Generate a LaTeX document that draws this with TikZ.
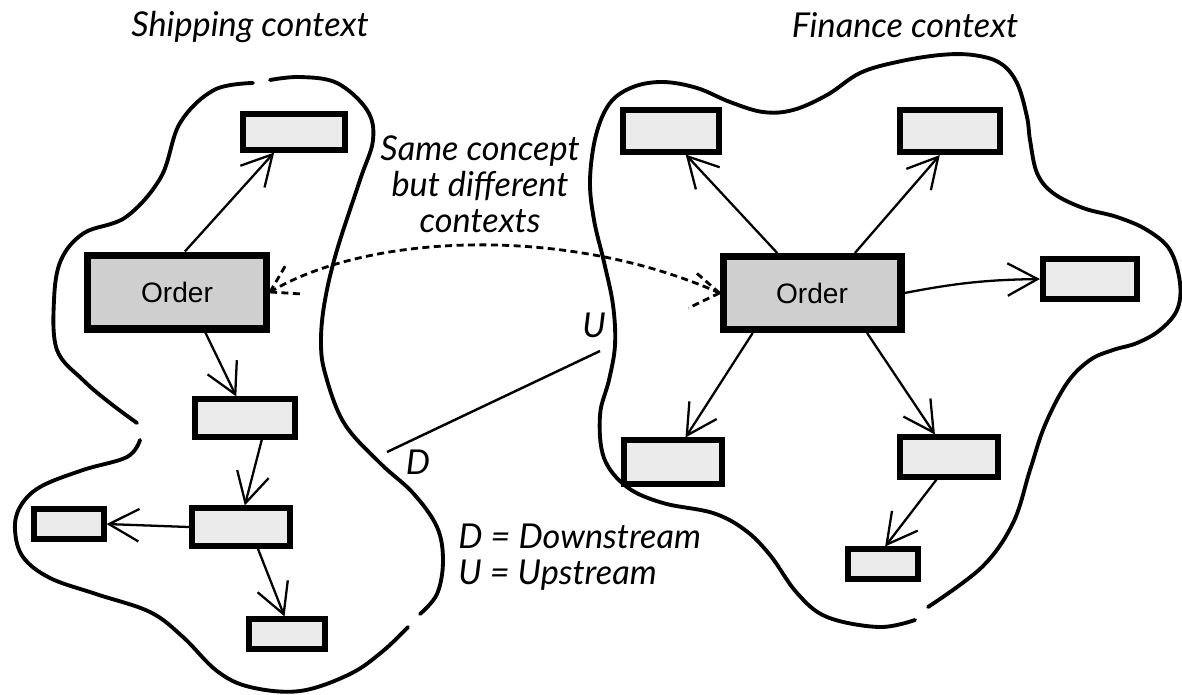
\documentclass[tikz,border=0pt]{standalone}
\usepackage{fontspec}
\usepackage{tikz}
\usetikzlibrary{arrows.meta}
\newfontfamily\boxfont{Liberation Sans}
\newfontfamily\handfont{Lato}
\tikzstyle{box} = [rectangle, draw=black, line width=3.2pt, fill=gray!16, inner sep=0pt]
\tikzstyle{order} = [rectangle, draw=black, line width=4pt, fill=gray!38, inner sep=0pt, font=\boxfont\fontsize{16}{18}\selectfont]
\tikzstyle{arrow} = [line width=1.3pt, -{Straight Barb[length=6mm, width=6.5mm]}]
\tikzstyle{link} = [line width=1.6pt, dash pattern=on 4pt off 2.5pt]
\tikzstyle{blob} = [line width=2.2pt, line cap=round, smooth, tension=0.6]
\tikzstyle{hand} = [inner sep=0pt, font=\handfont\itshape\fontsize{19.5}{20.5}\selectfont]

\begin{document}
\begin{tikzpicture}[x=0.02cm, y=-0.02cm]
  \useasboundingbox (0,0) rectangle (1182,694);
  % context outlines
  \draw[blob] plot coordinates {(253,83) (214,90) (180,123) (161,177) (126,217) (84,233) (61,260) (54,300) (57,350) (83,380) (110,403) (137,423)};
  \draw[blob] plot coordinates {(140,440) (127,457) (83,470) (40,487) (20,507) (15,530) (23,557) (50,578) (96,594) (150,612) (183,637) (217,671) (250,687) (300,691) (350,674) (383,651) (408,627)};
  \draw[blob] plot coordinates {(420,614) (437,594) (443,561) (437,527) (413,493) (380,463) (344,423) (325,373) (321,340) (325,300) (337,250) (360,180) (373,140) (367,110) (337,83) (300,77) (270,80)};
  \draw[blob] plot coordinates {(928,607) (982,567) (1013,523) (1030,470) (1045,425) (1067,383) (1090,360) (1113,350) (1137,343) (1160,330) (1177,310) (1180,283) (1170,250) (1147,230) (1117,217) (1083,208) (1053,193) (1037,173) (1030,140) (1027,117) (1017,83) (1000,63) (973,55) (940,55) (897,62) (860,73) (827,95) (793,110) (763,112) (730,102) (697,88) (663,82) (633,87) (610,103) (596,135) (590,180) (594,220) (604,262) (613,305) (615,345) (609,380) (600,415) (604,458) (627,487) (663,503) (713,513) (745,530) (770,555) (797,593) (827,617) (879,627) (915,620)};

  \node(shipping)[hand] at (250,27){Shipping context};
  \node(finance)[hand] at (905,25){Finance context};
  \node(concept)[hand, align=center] at (480,184){Same concept\\but different\\contexts};

  % shipping context
  \node(sorder)[order, minimum width=3.58cm, minimum height=1.48cm] at (177,292){Order};
  \node(s1)[box, minimum width=2.03cm, minimum height=0.71cm] at (294,132){};
  \node(s2)[box, minimum width=1.99cm, minimum height=0.75cm] at (245,418){};
  \node(s3)[box, minimum width=1.97cm, minimum height=0.75cm] at (241,527){};
  \node(s4)[box, minimum width=1.39cm, minimum height=0.59cm] at (69,524){};
  \node(s5)[box, minimum width=1.51cm, minimum height=0.59cm] at (287,634){};
  \draw[arrow] (sorder.79) -- (s1.-134);
  \draw[arrow] (sorder.-55) -- (s2.112);
  \draw[arrow] (s2.-52) -- (s3.80);
  \draw[arrow] (s3.west) -- (s4.east);
  \draw[arrow] (s3.-52) -- (s5.98);

  % finance context
  \node(forder)[order, minimum width=3.56cm, minimum height=1.46cm] at (812,293){Order};
  \node(f1)[box, minimum width=1.93cm, minimum height=0.83cm] at (671,131){};
  \node(f2)[box, minimum width=1.99cm, minimum height=0.85cm] at (950,131){};
  \node(f3)[box, minimum width=1.89cm, minimum height=0.79cm] at (1090,279){};
  \node(f4)[box, minimum width=1.95cm, minimum height=0.87cm] at (673,462){};
  \node(f5)[box, minimum width=1.95cm, minimum height=0.79cm] at (949,457){};
  \node(f6)[box, minimum width=1.39cm, minimum height=0.59cm] at (883,564){};
  \draw[arrow] (forder.131) -- (f1.-58);
  \draw[arrow] (forder.43) -- (f2.-113);
  \draw[arrow] (forder.east) to[bend left=5] (f3.west);
  \draw[arrow] (forder.-146) -- (f4.63);
  \draw[arrow] (forder.-36) -- (f5.122);
  \draw[arrow] (f5.-119) -- (f6.83);

  % same concept link
  \draw[link] (sorder.east) .. controls (370,232) and (570,226) .. (forder.west);
  \draw[link] (sorder.east) -- ++(17,-29);
  \draw[link] (sorder.east) -- ++(32,2);
  \draw[link] (forder.west) -- ++(-23,-20);
  \draw[link] (forder.west) -- ++(-31,15);

  % upstream / downstream
  \coordinate (dn) at (387,452);
  \coordinate (up) at (600,351);
  \draw[line width=1.4pt] (dn) -- (up);
  \node(ulabel)[hand] at (594,325){U};
  \node(dlabel)[hand] at (418,462){D};
  \node(legend)[hand, align=left, anchor=west, font=\handfont\itshape\fontsize{19.5}{20.5}\selectfont] at (458,557){D = Downstream\\U = Upstream};
\end{tikzpicture}
\end{document}
